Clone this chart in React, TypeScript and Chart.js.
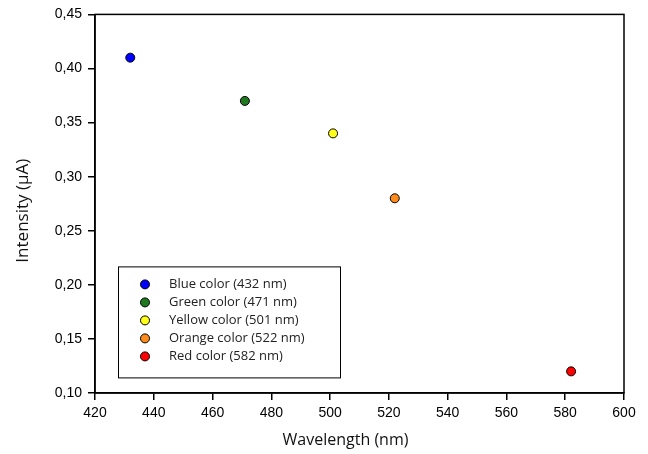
import React, { useEffect, useRef } from "react";
import { Chart, registerables } from "chart.js";

Chart.register(...registerables);

const seriesLabels = [
  "Blue color (432 nm)",
  "Green color (471 nm)",
  "Yellow color (501 nm)",
  "Orange color (522 nm)",
  "Red color (582 nm)",
];
const wavelengths = [432, 471, 501, 522, 582];
const intensities = [0.41, 0.37, 0.34, 0.28, 0.12];
const pointColors = ["#0000ff", "#1f7a1f", "#ffff1a", "#ff8c1a", "#ff0000"];

const xTitle = "Wavelength (nm)";
const yTitle = "Intensity (\u00b5A)";
const xMin = 420, xMax = 600, xStep = 20;
const yMin = 0.1, yMax = 0.45, yStep = 0.05;

const sideFont = "'Open Sans', 'Noto Sans', sans-serif";

const decorPlugin = {
  id: "decor",
  afterDraw(chart: any) {
    const { ctx, chartArea: a } = chart;
    ctx.save();
    // frame
    ctx.strokeStyle = "#000";
    ctx.lineWidth = 1.5;
    ctx.strokeRect(a.left, a.top, a.right - a.left, a.bottom - a.top);
    // axis titles
    ctx.fillStyle = "#111";
    ctx.font = `16px ${sideFont}`;
    ctx.textAlign = "center";
    ctx.textBaseline = "middle";
    ctx.fillText(xTitle, (a.left + a.right) / 2 - 14, 440);
    ctx.save();
    ctx.translate(23, (a.top + a.bottom) / 2 + 7);
    ctx.rotate(-Math.PI / 2);
    ctx.font = `17px ${sideFont}`;
    ctx.fillText(yTitle, 0, 0);
    ctx.restore();
    // legend
    const bx = a.left + 23, by = a.top + 252, bw = 222, bh = 111;
    ctx.fillStyle = "#fff";
    ctx.fillRect(bx, by, bw, bh);
    ctx.strokeStyle = "#000";
    ctx.lineWidth = 1;
    ctx.strokeRect(bx + 0.5, by + 0.5, bw, bh);
    ctx.font = `13px ${sideFont}`;
    ctx.textAlign = "left";
    ctx.textBaseline = "middle";
    seriesLabels.forEach((lab, i) => {
      const yy = by + 18 + i * 18;
      ctx.beginPath();
      ctx.arc(bx + 27, yy, 4.5, 0, Math.PI * 2);
      ctx.fillStyle = pointColors[i];
      ctx.fill();
      ctx.strokeStyle = "#000";
      ctx.lineWidth = 1;
      ctx.stroke();
      ctx.fillStyle = "#222";
      ctx.fillText(lab, bx + 51, yy);
    });
    ctx.restore();
  },
};

export default function App() {
  const ref = useRef<HTMLCanvasElement>(null);
  useEffect(() => {
    document.body.style.margin = "0";
    const chart = new Chart(ref.current!, {
      type: "scatter",
      data: {
        datasets: seriesLabels.map((lab, i) => ({
          label: lab,
          data: [{ x: wavelengths[i], y: intensities[i] }],
          backgroundColor: pointColors[i],
          borderColor: "#000",
          borderWidth: 1,
          pointRadius: 4.5,
        })),
      },
      options: {
        animation: false,
        responsive: false,
        layout: { padding: { top: 14, right: 24, left: 0, bottom: 0 } },
        plugins: { legend: { display: false }, tooltip: { enabled: false } },
        scales: {
          x: {
            type: "linear",
            min: xMin,
            max: xMax,
            afterFit: (s: any) => { s.height = 61; },
            ticks: {
              stepSize: xStep,
              color: "#000",
              font: { family: "'Liberation Sans', Arial, sans-serif", size: 14 },
              padding: 5,
              maxRotation: 0,
            },
            grid: { drawOnChartArea: false, tickLength: 7, color: "#000", lineWidth: 1.5 },
            border: { color: "#000", width: 1.5 },
          },
          y: {
            type: "linear",
            min: yMin,
            max: yMax,
            afterFit: (s: any) => { s.width = 95; },
            ticks: {
              stepSize: yStep,
              color: "#000",
              font: { family: "'Liberation Sans', Arial, sans-serif", size: 14 },
              padding: 6,
              callback: (v: any) => Number(v).toFixed(2).replace(".", ","),
            },
            grid: { drawOnChartArea: false, tickLength: 7, color: "#000", lineWidth: 1.5 },
            border: { color: "#000", width: 1.5 },
          },
        },
      },
      plugins: [decorPlugin],
    });
    return () => chart.destroy();
  }, []);
  return (
    <div style={{ width: 648, height: 454, background: "#fff" }}>
      <canvas ref={ref} width={648} height={454} />
    </div>
  );
}
